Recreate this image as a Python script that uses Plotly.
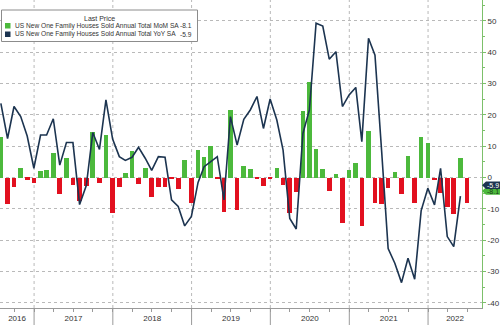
import pandas as pd
import plotly.graph_objects as go

# Monthly observations, month-end dates
months = pd.date_range("2016-07-31", periods=72, freq=pd.offsets.MonthEnd()).strftime("%Y-%m-%d").tolist()

# US New One Family Houses Sold, MoM % (SA)
mom = [12.9, -8.4, -2.9, 3.0, -0.6, -1.7,
       2.1, 2.6, 7.8, -5.3, 6.3, -2.4, -7.4, -2.6, 14.6, -1.7, 13.7, -11.3,
       -3.0, 1.5, 8.4, -2.1, 3.0, -6.3, -3.1, -3.1, -0.5, -3.5, 5.7, -8.1,
       8.9, 6.6, 10.0, -0.5, -11.0, 21.5, -10.3, 3.7, 2.9, -0.5, -2.6, -0.5,
       3.0, -2.4, -11.4, -4.6, 21.3, 30.5, 9.1, 2.9, -4.3, 1.2, -14.6, 2.3,
       4.7, -15.5, 14.8, -8.0, -8.3, -3.4, 1.7, -5.3, 6.9, -8.0, 12.9, 11.1,
       -0.9, -4.8, -9.3, -11.7, 6.4, -8.1]

# US New One Family Houses Sold, YoY % (SA), one month shorter
yoy = [23.7, 12.5, 22.7, 19.5, 13.3, 3.0,
       13.6, 13.6, 18.8, 4.0, 11.2, 11.2, -8.6, -2.5, 14.4, 9.0, 24.8, 12.3,
       6.7, 5.5, 6.5, 9.7, 6.2, 2.3, 6.7, 6.5, -7.1, -9.2, -15.4, -12.4,
       -1.5, 3.5, 5.1, 6.7, -7.1, 19.5, 10.4, 18.6, 21.6, 25.9, 15.7, 25.1,
       18.4, 8.8, -13.0, -16.4, 14.1, 21.6, 49.3, 48.4, 37.8, 40.2, 22.7, 26.4,
       28.8, 11.5, 44.5, 39.1, 8.3, -22.6, -27.3, -33.5, -25.7, -32.4, -10.5, -3.4,
       -8.7, 3.0, -18.8, -22.0, -5.9]

years = [2016, 2017, 2018, 2019, 2020, 2021, 2022]
y_ticks = [50, 40, 30, 20, 10, 0, -10, -20, -30, -40]

mom_name = "US New One Family Houses Sold Annual Total MoM SA"
yoy_name = "US New One Family Houses Sold Annual Total YoY SA"

GREEN = "#4cb93c"
RED = "#e2101f"
NAVY = "#1c3450"
GRID = "#b9b9b9"
FONT = "Liberation Sans, Arial, sans-serif"
TXT = "#333333"
LEG_SIZE = 6.6

x_range = ["2016-07-27", "2022-09-08"]
y_range = [-41.6, 56.7]

W, H = 500, 325
ML, MR, MT, MB = 0, 18, 0, 17
PW, PH = W - ML - MR, H - MT - MB


def px(x):
    return x / PW


def py(y):
    return 1 - y / PH


def val_to_py(v):
    return (v - y_range[0]) / (y_range[1] - y_range[0])


fig = go.Figure()

fig.add_trace(go.Bar(
    x=months, y=mom, name=mom_name,
    marker=dict(color=[GREEN if v >= 0 else RED for v in mom], line=dict(width=0)),
    width=21.5 * 86400000,
    showlegend=False,
))
fig.add_trace(go.Scatter(
    x=months[:len(yoy)], y=yoy, name=yoy_name, mode="lines",
    line=dict(color=NAVY, width=1.6),
    showlegend=False,
))

# Year labels centred in the visible part of each year
r0, r1 = pd.Timestamp(x_range[0]), pd.Timestamp(x_range[1])
tickvals, ticktext = [], []
for yr in years:
    a = max(pd.Timestamp(f"{yr}-01-01"), r0)
    b = min(pd.Timestamp(f"{yr + 1}-01-01"), r1)
    tickvals.append((a + (b - a) / 2).strftime("%Y-%m-%d %H:%M"))
    ticktext.append(str(yr))

quarters = pd.date_range("2016-10-01", "2022-09-01", freq=pd.offsets.QuarterBegin(startingMonth=1)).strftime("%Y-%m-%d").tolist()

shapes = []
for yr in years[1:]:
    d = f"{yr}-01-01"
    shapes.append(dict(type="line", xref="x", yref="paper", x0=d, x1=d, y0=0, y1=1,
                       line=dict(color=GRID, width=1, dash="dot"), layer="below"))
    shapes.append(dict(type="line", xref="x", yref="paper", x0=d, x1=d, y0=0, y1=-MB / PH,
                       line=dict(color="#9a9a9a", width=1)))

# Legend box
shapes.append(dict(type="rect", xref="paper", yref="paper",
                   x0=px(1.5), x1=px(197.5), y0=py(41.5), y1=py(10),
                   line=dict(color="#8c8c8c", width=1), fillcolor="white", layer="above"))
shapes.append(dict(type="rect", xref="paper", yref="paper",
                   x0=px(5), x1=px(10.5), y0=py(28.5), y1=py(23), line=dict(width=0),
                   fillcolor=GREEN, layer="above"))
shapes.append(dict(type="rect", xref="paper", yref="paper",
                   x0=px(5), x1=px(10.5), y0=py(37), y1=py(31.5), line=dict(width=0),
                   fillcolor=NAVY, layer="above"))

leg_font = dict(size=LEG_SIZE, color=TXT, family=FONT)
annotations = [
    dict(text="Last Price", xref="paper", yref="paper", x=px(99), y=py(18.5),
         xanchor="center", yanchor="middle", showarrow=False, font=dict(size=7, color=TXT, family=FONT)),
    dict(text=mom_name, xref="paper", yref="paper", x=px(12.5), y=py(25.8),
         xanchor="left", yanchor="middle", showarrow=False, font=leg_font),
    dict(text=yoy_name, xref="paper", yref="paper", x=px(12.5), y=py(34.2),
         xanchor="left", yanchor="middle", showarrow=False, font=leg_font),
    dict(text=f"{mom[-1]:.1f}", xref="paper", yref="paper", x=px(194), y=py(25.8),
         xanchor="right", yanchor="middle", showarrow=False, font=leg_font),
    dict(text=f"{yoy[-1]:.1f}", xref="paper", yref="paper", x=px(194), y=py(34.2),
         xanchor="right", yanchor="middle", showarrow=False, font=leg_font),
]

# Last-value tags on the right axis (pushed apart to avoid overlap)
def tag(value, color, text_color, lift_px, h_px=7.5):
    c = val_to_py(value) + lift_px / PH
    h = h_px / PH / 2
    x0, x1, x2 = 1.0, 1 + 4 / PW, 1 + 18 / PW
    path = (f"M {x0} {c} L {x1} {c + h} L {x2} {c + h} L {x2} {c - h} L {x1} {c - h} Z")
    shapes.append(dict(type="path", xref="paper", yref="paper", path=path,
                       fillcolor=color, line=dict(width=0), layer="above"))
    annotations.append(dict(text=f"{value:.1f}", xref="paper", yref="paper",
                            x=1 + 11 / PW, y=c, xanchor="center", yanchor="middle",
                            showarrow=False, font=dict(size=7, color=text_color, family=FONT)))

tag(mom[-1], GREEN, "#1a3a1a", 12)
tag(yoy[-1], NAVY, "white", 11)

fig.update_layout(
    width=W, height=H,
    margin=dict(l=ML, r=MR, t=MT, b=MB),
    paper_bgcolor="white", plot_bgcolor="white",
    bargap=0, barmode="overlay",
    font=dict(family=FONT, size=8, color=TXT),
    shapes=shapes, annotations=annotations,
    xaxis=dict(
        type="date", range=x_range,
        tickmode="array", tickvals=tickvals, ticktext=ticktext,
        ticks="", showgrid=False, zeroline=False,
        showline=True, linecolor="#9a9a9a", linewidth=1,
        tickfont=dict(size=8, color=TXT, family=FONT),
        ticklabelstandoff=2,
        minor=dict(tickmode="array", tickvals=quarters, ticks="outside", ticklen=3,
                   tickcolor="#9a9a9a", showgrid=False),
    ),
    yaxis=dict(
        side="right", range=y_range,
        tickmode="array", tickvals=y_ticks, ticktext=[str(v) for v in y_ticks],
        showgrid=True, gridcolor=GRID, griddash="dot", gridwidth=1,
        zeroline=False,
        showline=True, linecolor="#7cc06a", linewidth=1,
        ticks="outside", ticklen=3, tickcolor="#7cc06a",
        tickfont=dict(size=8, color=TXT, family=FONT),
        minor=dict(dtick=5, ticks="outside", ticklen=2, tickcolor="#7cc06a", showgrid=False),
    ),
)

fig.write_html("out.html")
